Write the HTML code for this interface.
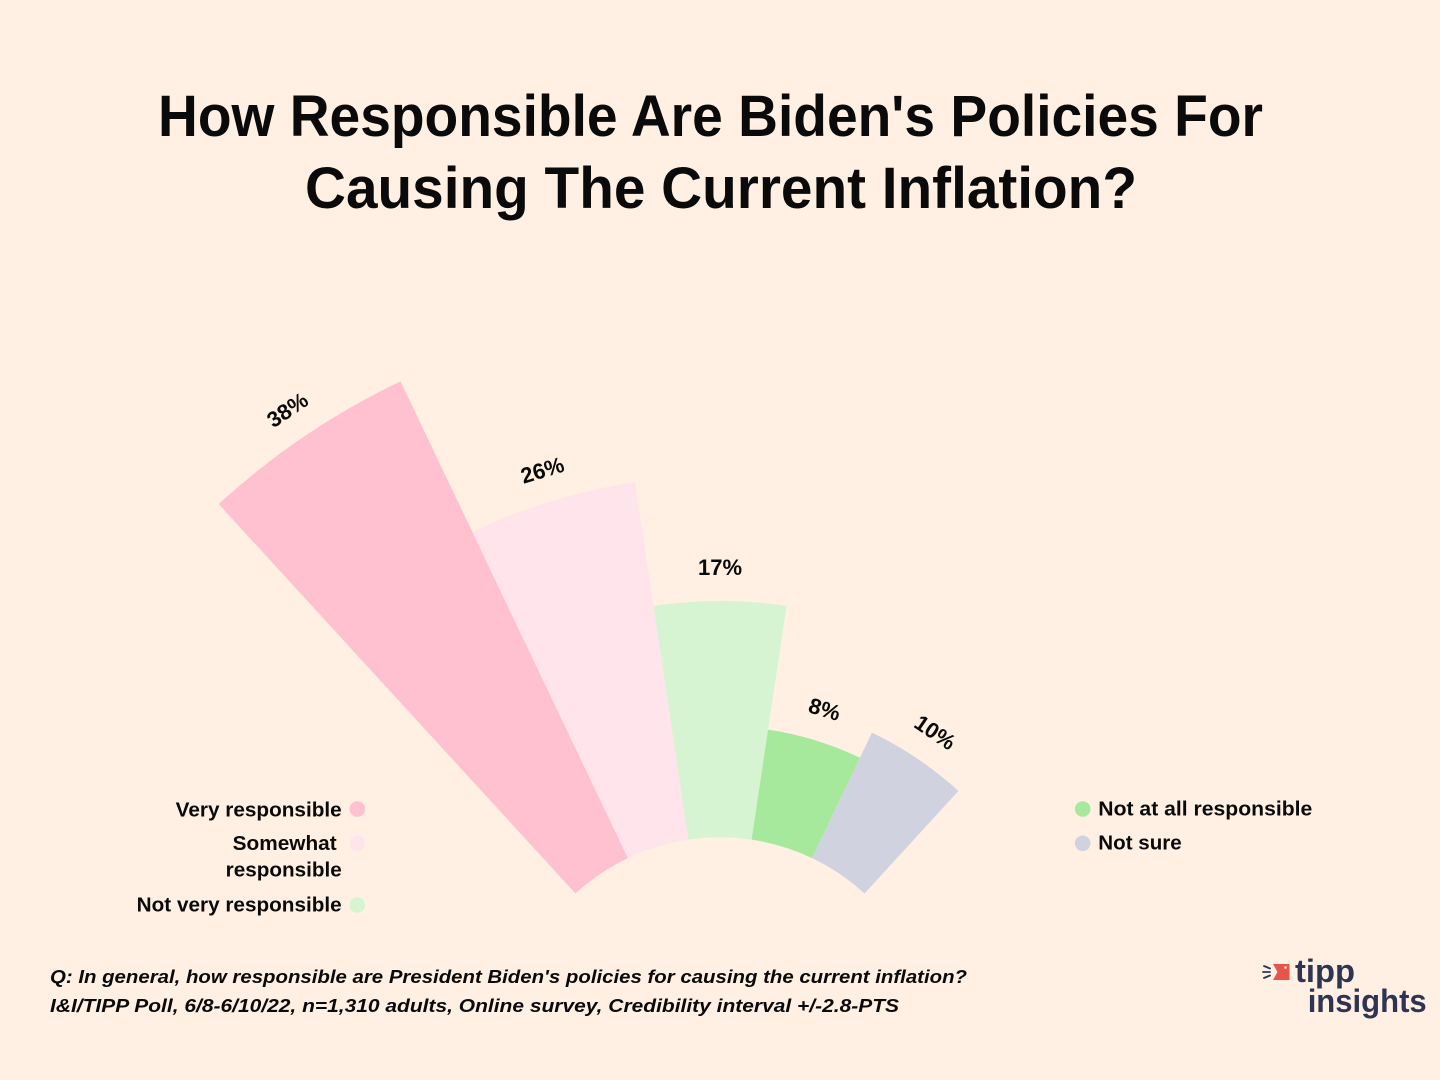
<!DOCTYPE html>
<html>
<head>
<meta charset="utf-8">
<style>
  html, body { margin:0; padding:0; background:#FFF0E3; }
  svg { display:block; }
  text { font-family: "Liberation Sans", "DejaVu Sans", sans-serif; }
</style>
</head>
<body>
<svg width="1440" height="1080" viewBox="0 0 1440 1080" xmlns="http://www.w3.org/2000/svg">
  <rect x="0" y="0" width="1440" height="1080" fill="#FFF0E3"/>

  <!-- Title -->
  <text x="158" y="136" font-size="58" font-weight="bold" fill="#0a0a0a" textLength="1105" lengthAdjust="spacingAndGlyphs">How Responsible Are Biden's Policies For</text>
  <text x="305" y="208" font-size="58" font-weight="bold" fill="#0a0a0a" textLength="832" lengthAdjust="spacingAndGlyphs">Causing The Current Inflation?</text>

  <!-- Wedges -->
  <path d="M 575.49 893.50 L 218.65 504.06 A 742.1 742.1 0 0 1 400.52 381.39 L 627.91 858.14 A 213.9 213.9 0 0 0 575.49 893.50 Z" fill="#FFC0D0"/>
  <path d="M 627.91 858.14 L 472.33 531.94 A 575.3 575.3 0 0 1 634.96 482.22 L 688.38 839.65 A 213.9 213.9 0 0 0 627.91 858.14 Z" fill="#FFE4EB"/>
  <path d="M 688.38 839.65 L 653.46 605.94 A 450.2 450.2 0 0 1 786.54 605.94 L 751.62 839.65 A 213.9 213.9 0 0 0 688.38 839.65 Z" fill="#D6F4D2"/>
  <path d="M 751.62 839.65 L 768.05 729.67 A 325.1 325.1 0 0 1 859.96 757.77 L 812.09 858.14 A 213.9 213.9 0 0 0 751.62 839.65 Z" fill="#A6E99C"/>
  <path d="M 812.09 858.14 L 871.93 732.68 A 352.9 352.9 0 0 1 958.42 791.01 L 864.51 893.50 A 213.9 213.9 0 0 0 812.09 858.14 Z" fill="#D0D3DF"/>

  <!-- Value labels -->
  <g font-size="22" font-weight="bold" fill="#0a0a0a" text-anchor="middle">
    <text transform="translate(720 1051.2) rotate(-34)" x="0" y="-766">38%</text>
    <text transform="translate(720 1051.2) rotate(-17)" x="0" y="-600">26%</text>
    <text transform="translate(720 1051.2) rotate(0)" x="0" y="-476">17%</text>
    <text transform="translate(720 1051.2) rotate(17)" x="0" y="-350">8%</text>
    <text transform="translate(720 1051.2) rotate(34)" x="0" y="-377">10%</text>
  </g>

  <!-- Left legend -->
  <g font-size="20.5" font-weight="bold" fill="#0a0a0a" text-anchor="end">
    <text x="341.7" y="816.7" textLength="166" lengthAdjust="spacingAndGlyphs">Very responsible</text>
    <text x="336.7" y="850" textLength="104" lengthAdjust="spacingAndGlyphs">Somewhat</text>
    <text x="341.7" y="876.7" textLength="116" lengthAdjust="spacingAndGlyphs">responsible</text>
    <text x="341.7" y="911.7" textLength="205" lengthAdjust="spacingAndGlyphs">Not very responsible</text>
  </g>
  <circle cx="357.3" cy="809" r="7.8" fill="#FFC0D0"/>
  <circle cx="357.3" cy="843.3" r="7.8" fill="#FFE4EB"/>
  <circle cx="357.3" cy="905" r="7.8" fill="#D6F4D2"/>

  <!-- Right legend -->
  <circle cx="1082.7" cy="809" r="7.8" fill="#A6E99C"/>
  <circle cx="1082.7" cy="843.3" r="7.8" fill="#D0D3DF"/>
  <g font-size="20.5" font-weight="bold" fill="#0a0a0a">
    <text x="1098.3" y="815.7" textLength="214" lengthAdjust="spacingAndGlyphs">Not at all responsible</text>
    <text x="1098.3" y="849.3" textLength="83.4" lengthAdjust="spacingAndGlyphs">Not sure</text>
  </g>

  <!-- Footer -->
  <g font-size="18" font-weight="bold" font-style="italic" fill="#0a0a0a">
    <text x="50" y="983" textLength="917" lengthAdjust="spacingAndGlyphs">Q: In general, how responsible are President Biden's policies for causing the current inflation?</text>
    <text x="50" y="1012" textLength="849" lengthAdjust="spacingAndGlyphs">I&amp;I/TIPP Poll, 6/8-6/10/22, n=1,310 adults, Online survey, Credibility interval +/-2.8-PTS</text>
  </g>

  <!-- Logo -->
  <g>
    <polygon points="1273,964 1289.5,964 1289.5,980 1273,980 1277.5,972" fill="#E8534A"/>
    <circle cx="1285.5" cy="967.5" r="1.2" fill="#ffffff"/>
    <g stroke="#2E3552" stroke-width="1.8" stroke-linecap="round">
      <line x1="1264" y1="966" x2="1270" y2="968.5"/>
      <line x1="1263" y1="972" x2="1270" y2="972"/>
      <line x1="1264" y1="978" x2="1270" y2="975.5"/>
    </g>
    <text x="1295" y="982" font-size="32" font-weight="bold" fill="#2E3552" textLength="60" lengthAdjust="spacingAndGlyphs">tipp</text>
    <text x="1307.7" y="1012" font-size="32" font-weight="bold" fill="#2E3552" textLength="119" lengthAdjust="spacingAndGlyphs">insights</text>
  </g>
</svg>
</body>
</html>
